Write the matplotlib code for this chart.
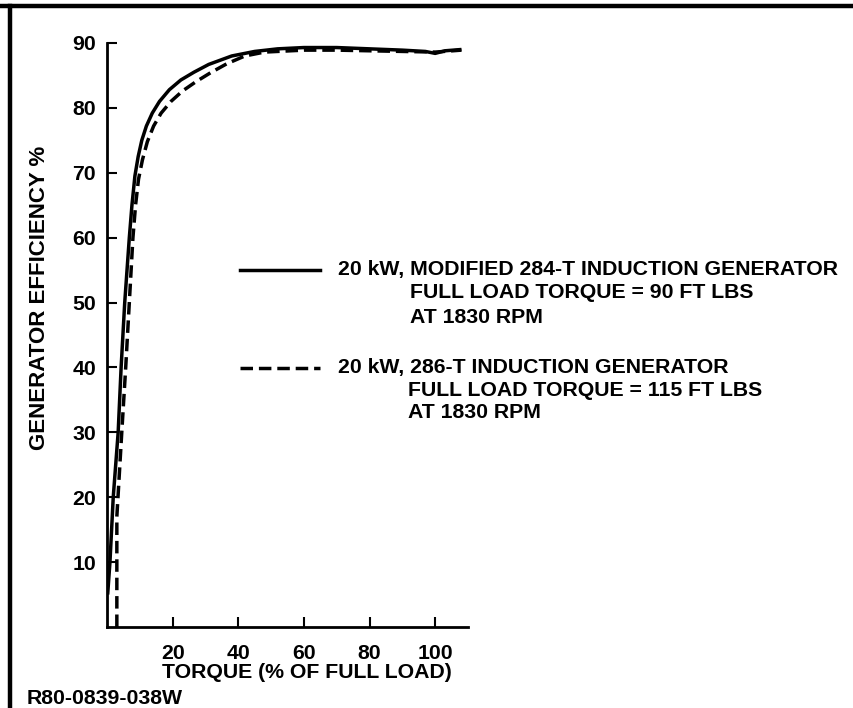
import matplotlib
matplotlib.use("Agg")
import matplotlib.pyplot as plt
from matplotlib.lines import Line2D

plt.rcParams["font.family"] = ["Liberation Sans", "DejaVu Sans"]
plt.rcParams["font.weight"] = "bold"

# Efficiency vs torque, modified 284-T generator (solid)
torque_284 = [0.2, 0.9, 1.9, 3.4, 4.3, 5.4, 6.8, 7.6, 8.5, 9.5, 10.6, 12, 13.8,
              16, 19, 22.5, 26.5, 31, 38, 45, 52, 60, 70, 80, 90, 97, 100, 103, 108]
eff_284 = [5, 10, 20, 30, 40, 50, 60, 65, 69.5, 72.5, 75, 77.2, 79.2,
           81, 82.8, 84.3, 85.5, 86.7, 88, 88.7, 89.1, 89.3, 89.3, 89.1, 88.9,
           88.7, 88.4, 88.8, 89.0]

# Efficiency vs torque, 286-T generator (dashed)
torque_286 = [3, 3, 4.5, 5.7, 6.8, 7.9, 8.7, 9.6, 10.8, 12.3, 14.2, 16.5, 19.5,
              23, 27, 31.5, 36.5, 42, 48, 60, 70, 80, 90, 100, 108]
eff_286 = [0, 17, 30, 40, 50, 60, 65, 69, 72, 74.8, 77.2, 79.2, 81,
           82.6, 84, 85.4, 86.8, 88, 88.6, 88.9, 88.9, 88.8, 88.7, 88.6, 88.9]

x_ticks = [20, 40, 60, 80, 100]
y_ticks = [10, 20, 30, 40, 50, 60, 70, 80, 90]

legend_284 = ["20 kW, MODIFIED 284-T INDUCTION GENERATOR",
              "FULL LOAD TORQUE = 90 FT LBS",
              "AT 1830 RPM"]
legend_286 = ["20 kW, 286-T INDUCTION GENERATOR",
              "FULL LOAD TORQUE = 115 FT LBS",
              "AT 1830 RPM"]

W, H = 854, 708
FS = 15.3
LW = 2.5
DASH = (3.6, 1.7)

fig = plt.figure(figsize=(W / 100, H / 100), dpi=100)


def fx(px):
    return px / W


def fy(py):
    return 1 - py / H


ax = fig.add_axes([fx(107), fy(627), fx(468) - fx(107), fy(43) - fy(627)])
ax.plot(torque_284, eff_284, color="black", lw=LW, solid_capstyle="butt",
        solid_joinstyle="round")
ax.plot(torque_286, eff_286, color="black", lw=LW, dashes=DASH)

ax.set_xlim(0, 110)
ax.set_ylim(0, 90)
ax.set_xticks(x_ticks)
ax.set_yticks(y_ticks)
for side in ("top", "right"):
    ax.spines[side].set_visible(False)
for side in ("left", "bottom"):
    ax.spines[side].set_linewidth(2.0)
ax.tick_params(axis="both", direction="in", length=7.5, width=1.5,
               labelsize=FS)
ax.tick_params(axis="y", pad=8)
ax.tick_params(axis="x", pad=12)
for lab in ax.get_xticklabels() + ax.get_yticklabels():
    lab.set_fontweight("bold")

fig.text(fx(307), fy(672), "TORQUE (% OF FULL LOAD)", ha="center", va="center",
         fontsize=FS, fontweight="bold")
fig.text(fx(40), fy(298), "GENERATOR EFFICIENCY %", ha="center", va="center",
         rotation=90, fontsize=16, fontweight="bold")
fig.text(fx(27), fy(698), "R80-0839-038W", ha="left", va="center",
         fontsize=FS, fontweight="bold")

# Legend keys and descriptions
fig.add_artist(Line2D([fx(240), fx(320)], [fy(270), fy(270)], color="black",
                      lw=LW, transform=fig.transFigure))
fig.add_artist(Line2D([fx(240), fx(320)], [fy(368), fy(368)], color="black",
                      lw=LW, dashes=DASH, transform=fig.transFigure))
for (xs, ys), txt in zip([(338, 270), (410, 293), (410, 317)], legend_284):
    fig.text(fx(xs), fy(ys), txt, ha="left", va="center", fontsize=FS,
             fontweight="bold")
for (xs, ys), txt in zip([(338, 368), (408, 390), (408, 413)], legend_286):
    fig.text(fx(xs), fy(ys), txt, ha="left", va="center", fontsize=FS,
             fontweight="bold")

# Frame rules along top and left edges
fig.add_artist(Line2D([0, 1], [fy(6), fy(6)], color="black", lw=3.2,
                      transform=fig.transFigure))
fig.add_artist(Line2D([fx(10), fx(10)], [0, fy(6)], color="black", lw=3.2,
                      transform=fig.transFigure))

fig.savefig("out.png", dpi=100)
